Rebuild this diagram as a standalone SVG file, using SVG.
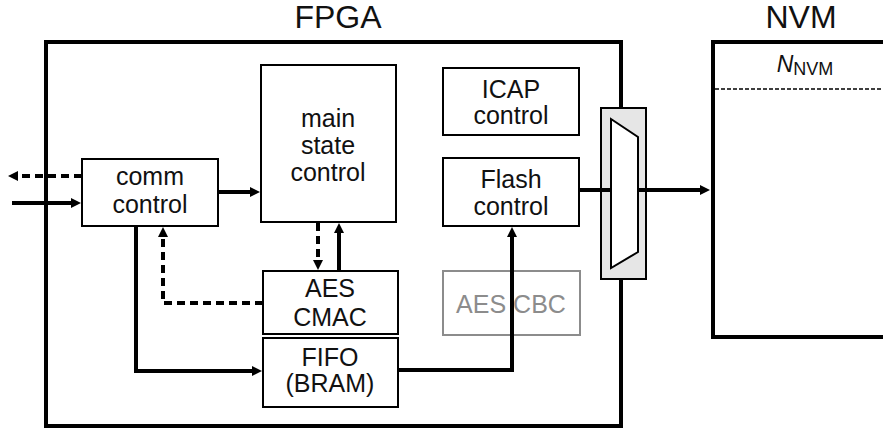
<svg xmlns="http://www.w3.org/2000/svg" width="883" height="430" viewBox="0 0 883 430">
<style>
.box{fill:#fff;stroke:#000;stroke-width:2}
.frame{fill:none;stroke:#000;stroke-width:4}
.t{font-family:"Liberation Sans",Arial,sans-serif;font-size:25px;fill:#111;text-anchor:middle}
.title{font-family:"Liberation Sans",Arial,sans-serif;font-size:32px;fill:#111;text-anchor:middle}
.c{fill:none;stroke:#000;stroke-width:4}
.d{stroke-dasharray:8 5}
</style>
<defs>
<marker id="ah" markerUnits="userSpaceOnUse" markerWidth="10" markerHeight="10" refX="5" refY="5" orient="auto">
<path d="M0,0 L10,5 L0,10 z" fill="#000"/>
</marker>
</defs>
<rect width="883" height="430" fill="#fff"/>
<g id="fpga">
<text class="title" x="338" y="28">FPGA</text>
<rect class="frame" x="46" y="42" width="575" height="384"/>
</g>
<g id="nvm">
<text class="title" x="801" y="28">NVM</text>
<rect class="frame" x="713" y="42" width="200" height="295"/>
<line x1="715" y1="89" x2="883" y2="89" stroke="#000" stroke-width="1.5" stroke-dasharray="4 2"/>
<text x="805" y="72" font-family="'Liberation Sans',Arial,sans-serif" fill="#111" text-anchor="middle"><tspan font-size="23" font-style="italic">N</tspan><tspan font-size="18" dy="3">NVM</tspan></text>
</g>
<g id="comm">
<rect class="box" x="82" y="159" width="136" height="67"/>
<text class="t" x="150" y="185">comm</text>
<text class="t" x="150" y="213">control</text>
</g>
<g id="main">
<rect class="box" x="261" y="65" width="135" height="157"/>
<text class="t" x="328" y="127">main</text>
<text class="t" x="328" y="154">state</text>
<text class="t" x="328" y="181">control</text>
</g>
<g id="icap">
<rect class="box" x="443" y="68" width="136" height="67"/>
<text class="t" x="511" y="98">ICAP</text>
<text class="t" x="511" y="124">control</text>
</g>
<g id="flash">
<rect class="box" x="443" y="158" width="136" height="68"/>
<text class="t" x="511" y="188">Flash</text>
<text class="t" x="511" y="215">control</text>
</g>
<g id="aescmac">
<rect class="box" x="263" y="271" width="135" height="63"/>
<text class="t" x="330" y="297">AES</text>
<text class="t" x="330" y="326">CMAC</text>
</g>
<g id="fifo">
<rect class="box" x="263" y="338" width="135" height="69"/>
<text class="t" x="330" y="366">FIFO</text>
<text class="t" x="330" y="392">(BRAM)</text>
</g>
<g id="aescbc">
<rect x="443" y="271" width="137" height="64" fill="#fff" stroke="#8c8c8c" stroke-width="2"/>
<text class="t" x="511" y="313" style="fill:#8c8c8c">AES CBC</text>
</g>
<g id="mux">
<rect x="601" y="108" width="45" height="171" fill="#e6e6e6" stroke="#000" stroke-width="2"/>
<polygon points="611,119 638,137 638,252 611,268" fill="#fff" stroke="#000" stroke-width="2"/>
</g>
<g id="connectors">
<path class="c d" d="M82,176 H13" marker-end="url(#ah)"/>
<path class="c" d="M12,203 H76" marker-end="url(#ah)"/>
<path class="c" d="M218,192 H255" marker-end="url(#ah)"/>
<path class="c d" d="M318,223 V265" marker-end="url(#ah)"/>
<path class="c" d="M339,271 V228" marker-end="url(#ah)"/>
<path class="c d" d="M263,303 H163 V232" marker-end="url(#ah)"/>
<path class="c" d="M136,226 V371 H257" marker-end="url(#ah)"/>
<path class="c" d="M398,370 H512 V232" marker-end="url(#ah)"/>
<path class="c" d="M579,190 H610 M639,190 H705" marker-end="url(#ah)"/>
</g>
</svg>
